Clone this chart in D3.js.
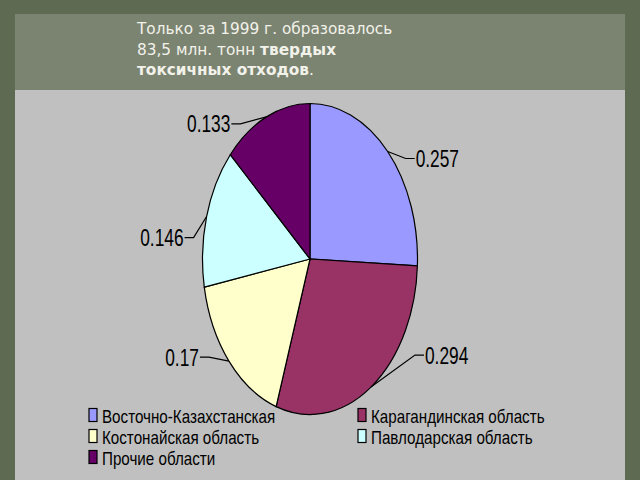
<!DOCTYPE html>
<html>
<head>
<meta charset="utf-8">
<script src="https://cdn.jsdelivr.net/npm/d3@7"></script>
<style>
body { margin: 0; background: #5f6a52; }
svg { display: block; }
</style>
</head>
<body>
<script>
// data
const regions = ["Восточно-Казахстанская", "Карагандинская область", "Костонайская область", "Павлодарская область", "Прочие области"];
const shares = [0.257, 0.294, 0.17, 0.146, 0.133];
const sliceColors = ["#9999ff", "#993366", "#ffffcc", "#ccffff", "#660066"];
const titleLines = [
  [["Только за 1999 г. образовалось", false]],
  [["83,5 млн. тонн ", false], ["твердых", true]],
  [["токсичных отходов", true], [".", false]]
];

const w = 640, h = 480;
const svg = d3.select("body").append("svg").attr("width", w).attr("height", h);

// slide background
svg.append("rect").attr("width", w).attr("height", h).attr("fill", "#5f6a52");
svg.append("rect").attr("x", 15).attr("y", 14).attr("width", 610).attr("height", 80).attr("fill", "#7b8471");
svg.append("rect").attr("x", 15).attr("y", 90).attr("width", 610).attr("height", 390).attr("fill", "#c0c0c0");

// title
const title = svg.append("text")
  .attr("font-family", "DejaVu Sans")
  .attr("font-size", 15.3)
  .attr("fill", "#f2f2ea");
titleLines.forEach((line, i) => {
  line.forEach((part, j) => {
    const t = title.append("tspan").text(part[0]).attr("font-weight", part[1] ? "bold" : "normal");
    if (j == 0) t.attr("x", 137).attr("y", 34 + i * 20.5);
  });
});

// pie, drawn as a circle and stretched vertically like the original
const cx = 310, cy = 259, rx = 107.5, ry = 155.5;
const sy = ry / rx;
const pie = d3.pie().sort(null).value(d => d)(shares);
const arc = d3.arc().innerRadius(0).outerRadius(rx);

const g = svg.append("g").attr("transform", "translate(" + cx + "," + cy + ") scale(1," + sy + ")");
g.selectAll("path")
  .data(pie)
  .enter()
  .append("path")
  .attr("d", arc)
  .attr("fill", (d, i) => sliceColors[i])
  .attr("stroke", "#000")
  .attr("stroke-width", 1.2)
  .attr("vector-effect", "non-scaling-stroke");

// labels: offset of label from the slice edge point, and text anchor
const labelOffsets = [[28, 7, "start"], [54, -32, "start"], [-30, -4, "end"], [-23, 21, "end"], [-36, 7, "end"]];
const fmt = d => String(d);
pie.forEach((d, i) => {
  const a = (d.startAngle + d.endAngle) / 2;
  const ex = cx + rx * Math.sin(a), ey = cy - ry * Math.cos(a);
  const off = labelOffsets[i];
  const lx = ex + off[0], ly = ey + off[1];
  const dir = off[2] == "start" ? 1 : -1;
  svg.append("polyline")
    .attr("points", [[ex, ey], [lx - dir * 10, ly], [lx - dir * 1, ly]].map(p => p.join(",")).join(" "))
    .attr("fill", "none")
    .attr("stroke", "#000")
    .attr("stroke-width", 1.2);
  svg.append("text")
    .attr("transform", "translate(" + lx + "," + (ly + 8.5) + ") scale(1.05," + sy + ")")
    .attr("text-anchor", off[2])
    .attr("font-family", "Liberation Sans")
    .attr("font-size", 16.5)
    .attr("fill", "#000")
    .text(fmt(d.data));
});

// legend, two columns
const colX = [89, 358];
const rowY = d3.scaleLinear().domain([0, 1]).range([415, 436]);
regions.forEach((name, i) => {
  const x = colX[i % 2], y = rowY(Math.floor(i / 2));
  svg.append("rect")
    .attr("x", x).attr("y", y - 6.5)
    .attr("width", 8).attr("height", 13)
    .attr("fill", sliceColors[i])
    .attr("stroke", "#000")
    .attr("stroke-width", 1.2);
  svg.append("text")
    .attr("transform", "translate(" + (x + 13) + "," + (y + 7.5) + ") scale(0.98,1.2)")
    .attr("font-family", "Liberation Sans")
    .attr("font-size", 15.5)
    .attr("fill", "#000")
    .text(name);
});
</script>
</body>
</html>
